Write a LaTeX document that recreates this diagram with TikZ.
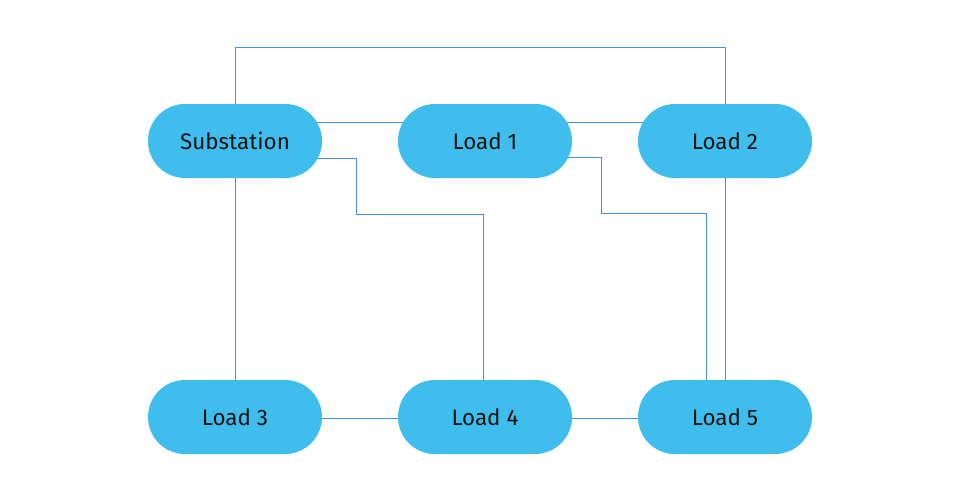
\documentclass[tikz,border=0pt]{standalone}
\usepackage{fontspec}
\setmainfont{Fira Sans}
\usetikzlibrary{backgrounds,calc}
\definecolor{capsule}{RGB}{63,189,236}
\definecolor{wire}{RGB}{74,144,217}
\definecolor{ink}{RGB}{20,20,20}
\begin{document}
\begin{tikzpicture}[x=0.75pt,y=-0.75pt,
  pill/.style={fill=capsule,draw=none,rounded corners=27.7pt,minimum width=130.5pt,minimum height=55.5pt,inner sep=0pt,text=ink,font=\fontsize{16.8}{20}\selectfont},
  wireline/.style={draw=wire,line width=0.75pt}]
\useasboundingbox (0,0) rectangle (960,500);
\node[pill] (sub) at (235,141) {Substation};
\node[pill] (l1) at (485,141) {Load 1};
\node[pill] (l2) at (725,141) {Load 2};
\node[pill] (l3) at (235,417) {Load 3};
\node[pill] (l4) at (485,417) {Load 4};
\node[pill] (l5) at (725,417) {Load 5};
\coordinate (top) at (0,47);
\coordinate (ya) at (0,122);
\coordinate (yb) at (0,158);
\coordinate (yc) at (0,214);
\coordinate (xb) at (356,0);
\coordinate (x4) at (483,0);
\coordinate (yd) at (0,157);
\coordinate (ye) at (0,213);
\coordinate (xd) at (601,0);
\coordinate (x5) at (706,0);
\coordinate (yf) at (0,418);
\begin{pgfonlayer}{background}
\draw[wireline] (sub.north) -- (sub.north |- top) -| (l2.north);
\draw[wireline] (sub.center |- ya) -- (l1.center |- ya);
\draw[wireline] (l1.center |- ya) -- (l2.center |- ya);
\draw[wireline] (sub.center |- yb) -- (xb |- yb) -- (xb |- yc) -- (x4 |- yc) -- (x4 |- l4.north);
\draw[wireline] (l1.center |- yd) -- (xd |- yd) -- (xd |- ye) -- (x5 |- ye) -- (x5 |- l5.north);
\draw[wireline] (sub.south) -- (l3.north);
\draw[wireline] (l2.south) -- (l5.north);
\draw[wireline] (l3.center |- yf) -- (l4.center |- yf);
\draw[wireline] (l4.center |- yf) -- (l5.center |- yf);
\end{pgfonlayer}
\end{tikzpicture}
\end{document}
